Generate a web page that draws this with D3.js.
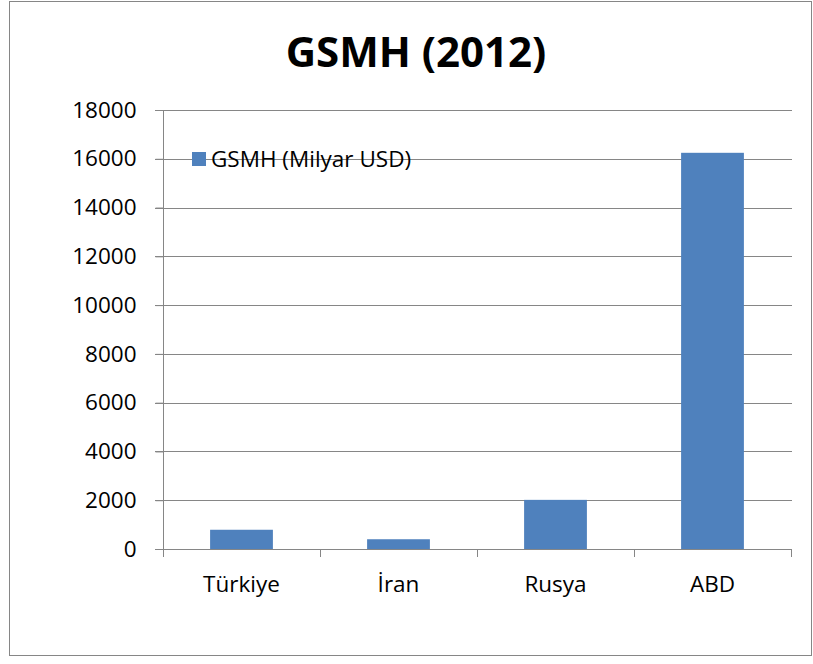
<!DOCTYPE html>
<html><head><meta charset="utf-8">
<script src="https://cdn.jsdelivr.net/npm/d3@7"></script>
<style>body{margin:0;background:#fff}svg{display:block}</style>
</head><body>
<svg id="c" width="813" height="664"></svg>
<script>
const title = "GSMH (2012)";
const seriesName = "GSMH (Milyar USD)";
const categories = ["Türkiye", "İran", "Rusya", "ABD"];
const values = [789, 400, 2015, 16245];
const yTicks = [0, 2000, 4000, 6000, 8000, 10000, 12000, 14000, 16000, 18000];

(function () {
const svg = d3.select("#c");
const font = "'Open Sans', sans-serif";
const fs = 22.5;
const pLeft = 163, pRight = 791, pTop = 110, pBottom = 549;

svg.append("rect").attr("x", 9.5).attr("y", 1.5).attr("width", 802).attr("height", 654)
  .attr("fill", "#fff").attr("stroke", "#868686").attr("stroke-width", 1);

const x = d3.scaleBand().domain(categories).range([pLeft, pRight]).paddingInner(0.6).paddingOuter(0.3);
const y = d3.scaleLinear().domain([0, 18000]).range([pBottom, pTop]);

// gridlines
svg.append("g").selectAll("line").data(yTicks.filter(d => d > 0)).join("line")
  .attr("x1", pLeft - 8).attr("x2", pRight + 1)
  .attr("y1", d => Math.round(y(d)) + 0.5).attr("y2", d => Math.round(y(d)) + 0.5)
  .attr("stroke", "#868686").attr("stroke-width", 1);

// y axis
const yAxis = svg.append("g").attr("transform", `translate(${pLeft + 0.5},0)`)
  .call(d3.axisLeft(y).tickValues(yTicks).tickSize(8).tickPadding(19).tickFormat(d3.format("d")));
yAxis.selectAll("path, line").attr("stroke", "#868686");
yAxis.select(".domain").attr("d", `M0,${pTop}V${pBottom}`);
yAxis.selectAll("text").attr("font-family", font).attr("font-size", fs).attr("fill", "#000");

// bars
svg.append("g").selectAll("rect").data(values).join("rect")
  .attr("x", (d, i) => x(categories[i]))
  .attr("width", x.bandwidth())
  .attr("y", d => y(d))
  .attr("height", d => pBottom - y(d))
  .attr("fill", "#4F81BD");

// x axis
const step = x.step();
const bounds = d3.range(categories.length + 1).map(i => pLeft + i * step);
svg.append("line").attr("x1", pLeft - 8).attr("x2", pRight + 1)
  .attr("y1", pBottom + 0.5).attr("y2", pBottom + 0.5).attr("stroke", "#868686");
svg.append("g").selectAll("line").data(bounds).join("line")
  .attr("x1", d => Math.round(d) + 0.5).attr("x2", d => Math.round(d) + 0.5)
  .attr("y1", pBottom).attr("y2", pBottom + 8).attr("stroke", "#868686");
svg.append("g").selectAll("text").data(categories).join("text")
  .attr("x", d => x(d) + x.bandwidth() / 2).attr("y", 592)
  .attr("text-anchor", "middle").attr("font-family", font).attr("font-size", fs)
  .attr("fill", "#000").text(d => d);

// legend
svg.append("rect").attr("x", 192).attr("y", 152).attr("width", 14).attr("height", 14).attr("fill", "#4F81BD");
svg.append("text").attr("x", 211).attr("y", 166.5).attr("font-family", font).attr("font-size", fs)
  .attr("fill", "#000").text(seriesName);

// title
svg.append("text").attr("x", 416).attr("y", 67).attr("text-anchor", "middle")
  .attr("font-family", font).attr("font-weight", "bold").attr("font-size", 42)
  .attr("fill", "#000").text(title);
})();
</script>
</body></html>
